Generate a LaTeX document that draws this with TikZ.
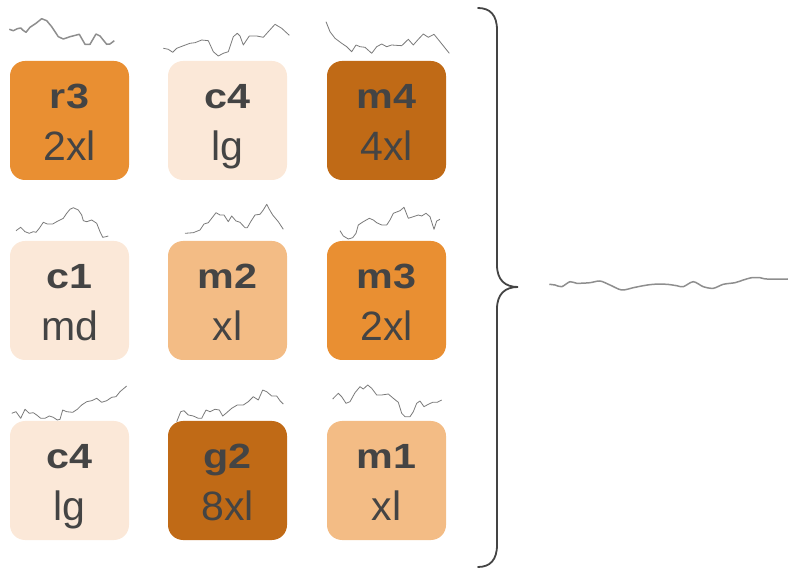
\documentclass[tikz,border=0pt]{standalone}
\usepackage{fontspec}
\setmainfont{Liberation Sans}
\definecolor{cLight}{HTML}{FBE8D8}
\definecolor{cMed}{HTML}{F3BC85}
\definecolor{cOrange}{HTML}{E98F32}
\definecolor{cDark}{HTML}{C06A16}
\definecolor{cText}{HTML}{444444}
\definecolor{cSpark}{HTML}{7A7A7A}
\tikzset{
  cell/.style={rounded corners=15pt, minimum width=119pt, minimum height=119pt, inner sep=0pt, draw=none},
  ttl/.style={anchor=base, text=cText, font=\fontsize{35}{35}\selectfont\bfseries, inner sep=0pt},
  sub/.style={anchor=base, text=cText, font=\fontsize{41}{41}\selectfont, inner sep=0pt},
  spark/.style={draw=cSpark, line width=0.8pt, line join=round},
  sparkthick/.style={draw=cSpark!85, line width=1.5pt, line join=round},
  bracestyle/.style={draw=cText, line width=1.8pt, line cap=round}
}
\newcommand{\mycell}[7]{%
  \node[cell, fill=#4] (#1) at (#2,#3) {};
  \node[ttl] (#1t) at (#2,#3-11.5) {\scalebox{1.18}[1]{#5}};
  \node[sub] (#1s) at (#2,#3+40.5) {#6};
}
\begin{document}
\begin{tikzpicture}[x=1pt,y=-1pt]
\useasboundingbox (0,0) rectangle (788,569);
% cells
\mycell{b11}{69.5}{120.5}{cOrange}{r3}{2xl}{}
\mycell{b12}{227.5}{120.5}{cLight}{c4}{lg}{}
\mycell{b13}{386.5}{120.5}{cDark}{m4}{4xl}{}
\mycell{b21}{69.5}{300.5}{cLight}{c1}{md}{}
\mycell{b22}{227.5}{300.5}{cMed}{m2}{xl}{}
\mycell{b23}{386.5}{300.5}{cOrange}{m3}{2xl}{}
\mycell{b31}{69.5}{480.5}{cLight}{c4}{lg}{}
\mycell{b32}{227.5}{480.5}{cDark}{g2}{8xl}{}
\mycell{b33}{386.5}{480.5}{cMed}{m1}{xl}{}
% sparklines
\draw[sparkthick] plot coordinates {(9.3,29.3)(13.3,30.7)(17.3,28.7)(20.7,28)(22.7,30)(26,32.3)(30,27.3)(36,23.3)(41.7,18.7)(46.7,20.7)(51.7,26.7)(58.3,36.7)(63.3,39)(70,36.7)(79.3,34.3)(85,44.3)(90,44.3)(96,34)(100,36)(106.7,44.3)(110,44)(114.3,40.7)};
\draw[spark] plot coordinates {(163.3,48.3)(168.3,49.3)(172.7,52.3)(176.7,48.3)(182.7,46)(190,43.3)(195,42.7)(201.7,40)(208.3,40.7)(213.3,51.7)(218.3,56)(223.3,53.3)(228.3,51.7)(233.3,36.7)(237.3,33.3)(240,36)(243.3,45)(249.3,36)(256.7,36)(263.3,37.3)(268.3,31.7)(275,24.3)(281.7,28.3)(289.3,35.3)};
\draw[spark] plot coordinates {(326,21.7)(330,31.7)(335,38.3)(341.7,43.3)(346.7,46.7)(351.7,51.7)(356,45)(360,46.7)(365,47.3)(371.7,53.3)(376.7,46.7)(381.7,44)(386.7,46.7)(391.7,45)(401.7,45.7)(408.3,39.3)(413.3,45)(418.3,39.3)(423.3,34)(428.3,37.3)(434,34.3)(440,41.7)(449.3,53.3)};
\draw[spark] plot coordinates {(16,230.7)(20.7,227.3)(25,231.7)(29.3,233.3)(33.3,231.7)(36,232.3)(39.3,228.3)(43.3,222.3)(47.3,224)(52.7,224)(56.7,221.7)(60,220)(63.3,218.3)(66.7,213.3)(70,209.3)(73.3,207.7)(78.3,210)(81.7,215)(83.3,220.7)(86.7,221.7)(91.7,220)(96.7,223.3)(100,231.7)(102.7,237.3)(106,236.7)(108.3,236)};
\draw[spark] plot coordinates {(185,233.3)(193.3,232.7)(200,230)(204,224)(208.3,222.7)(216,212.7)(220,215)(224,215)(228.3,221.7)(231.7,216)(236,221)(240,222.3)(245,227.7)(247.3,227.7)(250.7,221.7)(255,215)(260,214.3)(263.3,210)(266.7,204.3)(269.3,209.3)(272.7,215)(278.3,221.7)(283.3,229.3)};
\draw[spark] plot coordinates {(340,230.7)(343.3,236)(348.3,239)(352.7,237.7)(356,233.3)(358.3,225)(363.3,221.7)(369.3,218.3)(373.3,220)(376.7,222.7)(381.7,225)(386.7,225)(390,220)(393.3,213.3)(400,210.7)(404,207.3)(408.3,218.3)(413.3,216.7)(418.3,215)(421.7,216)(426,213.3)(430,216.7)(434,229.3)(436.7,221)(440,219.3)};
\draw[spark] plot coordinates {(11.7,413.3)(16,411.7)(20.7,418.3)(25,409.3)(29.3,413.3)(33.3,412.7)(36.7,415)(40.7,418.3)(45,418.3)(49.3,416)(53.3,417.3)(57.3,420)(60,419.3)(62.7,410)(66.7,411.7)(72.7,412.3)(77.3,409.3)(81.7,405)(86.7,401.7)(91.7,400.7)(96.7,398.3)(101.7,402.3)(106.7,400.7)(111.7,397.3)(116,396.7)(120,391.7)(126.7,386)};
\draw[spark] plot coordinates {(176.7,421.7)(180.7,411.7)(184,410.7)(188.3,415)(193.3,416)(198.3,418.3)(201.7,418.3)(206,410)(210,411.7)(215,409.3)(219.3,410)(222.7,416)(226.7,412.7)(231.7,408.3)(237.3,405)(243.3,405)(248.3,401.7)(253.3,396.7)(258.3,400)(262.7,390)(266.7,391.7)(271.7,396)(276.7,396)(280,400.7)(283.3,404)};
\draw[spark] plot coordinates {(332.7,399)(338.3,393.3)(341.7,396.7)(346,403.3)(350,401.7)(355,392.7)(360,386.7)(363.3,389)(367.7,385)(371.7,388.3)(376.7,395)(381.7,395)(388.3,394)(393.3,398.3)(398.3,402.3)(401.7,413.3)(405,416.7)(410,416.7)(413.3,411.7)(416.7,403.3)(420,401)(424,406.7)(428.3,404.3)(432.7,402.3)(437.3,402.3)(441.7,400)};
% brace
\draw[bracestyle] (478,8) .. controls (490,8) and (497,15) .. (497,30) -- (497,265) .. controls (497,280) and (505,287) .. (518,287) .. controls (505,287) and (497,294) .. (497,309) -- (497,545) .. controls (497,560) and (490,567) .. (478,567);
% aggregate sparkline
\draw[sparkthick] plot[smooth, tension=0.5] coordinates {(549.3,284.3)(555,285)(561.7,286.7)(570,281.7)(576.7,283.3)(590,282.7)(600,281)(610,285)(621.7,290)(633.3,287.7)(643.3,285.7)(653.3,284.3)(666.7,284.3)(676.7,285.7)(683.3,286.7)(693.3,281.7)(703.3,286.7)(713.3,288.3)(723.3,284.3)(735,282.7)(743.3,280)(751.7,277.7)(760,277.7)(766.7,279)(788,279)};
\end{tikzpicture}
\end{document}
